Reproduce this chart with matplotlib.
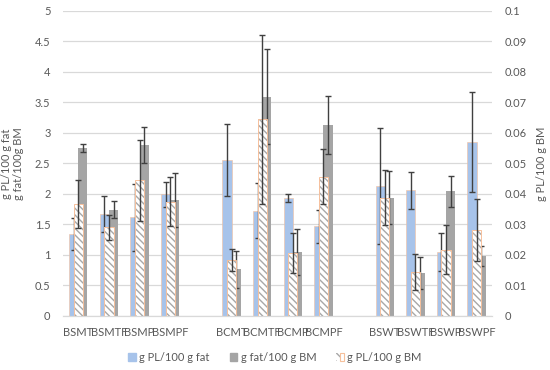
import matplotlib
matplotlib.use("Agg")
import matplotlib.pyplot as plt
import numpy as np
from matplotlib.patches import Patch
from matplotlib.legend_handler import HandlerTuple

# category labels (blank = spacer between sample groups)
labels = ["BSMT", "BSMTF", "BSMP", "BSMPF", "",
          "BCMT", "BCMTF", "BCMP", "BCMPF", "",
          "BSWT", "BSWTF", "BSWP", "BSWPF"]

# primary axis series
pl_fat = [1.34, 1.67, 1.62, 1.99, 2.555, 1.725, 1.93, 1.47, 2.13, 2.06, 1.05, 2.85]
pl_fat_err = [0.26, 0.30, 0.55, 0.21, 0.59, 0.45, 0.065, 0.27, 0.95, 0.30, 0.31, 0.82]
fat_bm = [2.75, 1.74, 2.80, 1.90, 0.765, 3.59, 1.05, 3.13, 1.94, 0.70, 2.04, 0.98]
fat_bm_err = [0.06, 0.14, 0.30, 0.45, 0.305, 0.78, 0.38, 0.48, 0.43, 0.265, 0.26, 0.165]
# secondary axis series
pl_bm = [0.0368, 0.029, 0.0444, 0.0374, 0.0183, 0.0644, 0.0206, 0.0456, 0.0388, 0.0143, 0.0217, 0.0282]
pl_bm_err = [0.0079, 0.004, 0.0134, 0.008, 0.0035, 0.0276, 0.0065, 0.009, 0.0091, 0.0059, 0.0081, 0.0102]

BLUE, GRAY, ORANGE, TXT = "#a7c3ea", "#a5a5a5", "#f6c09c", "#595959"
HATCH = "#a8a8a8"
ERR = dict(ecolor="#404040", elinewidth=1.0, capsize=2.5, capthick=1.0)

plt.rcParams["font.family"] = ["Lato", "DejaVu Sans"]
plt.rcParams["hatch.linewidth"] = 1.0

x = np.array([i for i, l in enumerate(labels) if l], dtype=float)
w = 0.3

fig = plt.figure(figsize=(5.5, 3.7), dpi=100)
ax = fig.add_axes([0.1145, 0.146, 0.78, 0.825])
ax2 = ax.twinx()

ax.bar(x - w / 2, pl_fat, w, color=BLUE, edgecolor=ORANGE, linewidth=0.4, zorder=2)
ax.bar(x + w / 2, fat_bm, w, color=GRAY, linewidth=0, zorder=2)
ax.errorbar(x - w / 2, pl_fat, yerr=pl_fat_err, fmt="none", zorder=3, **ERR)
ax.errorbar(x + w / 2, fat_bm, yerr=fat_bm_err, fmt="none", zorder=3, **ERR)

# hatched series: hatch in gray, outline in orange (two layers)
ax2.bar(x, pl_bm, w, color="white", edgecolor=HATCH, hatch="\\\\\\\\\\", linewidth=0, zorder=2)
ax2.bar(x, pl_bm, w, fill=False, edgecolor=ORANGE, linewidth=0.7, zorder=2)
ax2.errorbar(x, pl_bm, yerr=pl_bm_err, fmt="none", zorder=3, **ERR)

ax.set_xlim(-0.5, len(labels) - 0.5)
ax.set_ylim(0, 5)
ax2.set_ylim(0, 0.1)
ax.set_yticks(np.arange(0, 5.01, 0.5))
ax.set_yticklabels([f"{v:g}" for v in np.arange(0, 5.01, 0.5)])
ax2.set_yticks(np.arange(0, 0.1001, 0.01))
ax2.set_yticklabels([f"{v:.2f}".rstrip("0").rstrip(".") for v in np.arange(0, 0.1001, 0.01)])
ax.set_xticks(range(len(labels)))
ax.set_xticklabels(labels)

ax.grid(axis="y", color="#d9d9d9", linewidth=0.9, zorder=0)
ax.set_axisbelow(True)
for a in (ax, ax2):
    for s in ("top", "left", "right"):
        a.spines[s].set_visible(False)
    a.spines["bottom"].set_color("#d9d9d9")
    a.tick_params(length=0, labelsize=8, labelcolor=TXT)
ax.tick_params(axis="y", pad=9)
ax.tick_params(axis="x", pad=8)
ax2.tick_params(axis="y", pad=9)

ax.set_ylabel("g PL/100 g fat\ng fat/100g BM", fontsize=8, color=TXT, labelpad=8, linespacing=1.1)
ax2.set_ylabel("g PL/100 g BM", fontsize=8, color=TXT, labelpad=7)

h_hatch = (Patch(facecolor="white", edgecolor=HATCH, hatch="\\\\\\\\", linewidth=0),
           Patch(fill=False, edgecolor=ORANGE, linewidth=0.8))
handles = [Patch(color=BLUE), Patch(color=GRAY), h_hatch]
fig.legend(handles, ["g PL/100 g fat", "g fat/100 g BM", "g PL/100 g BM"],
           loc="center", bbox_to_anchor=(0.50, 0.035), ncol=3, frameon=False,
           fontsize=8, labelcolor=TXT, handlelength=0.7, handleheight=0.7,
           handletextpad=0.3, columnspacing=1.8,
           handler_map={tuple: HandlerTuple(ndivide=None, pad=0)})

fig.savefig("out.png", dpi=100)
